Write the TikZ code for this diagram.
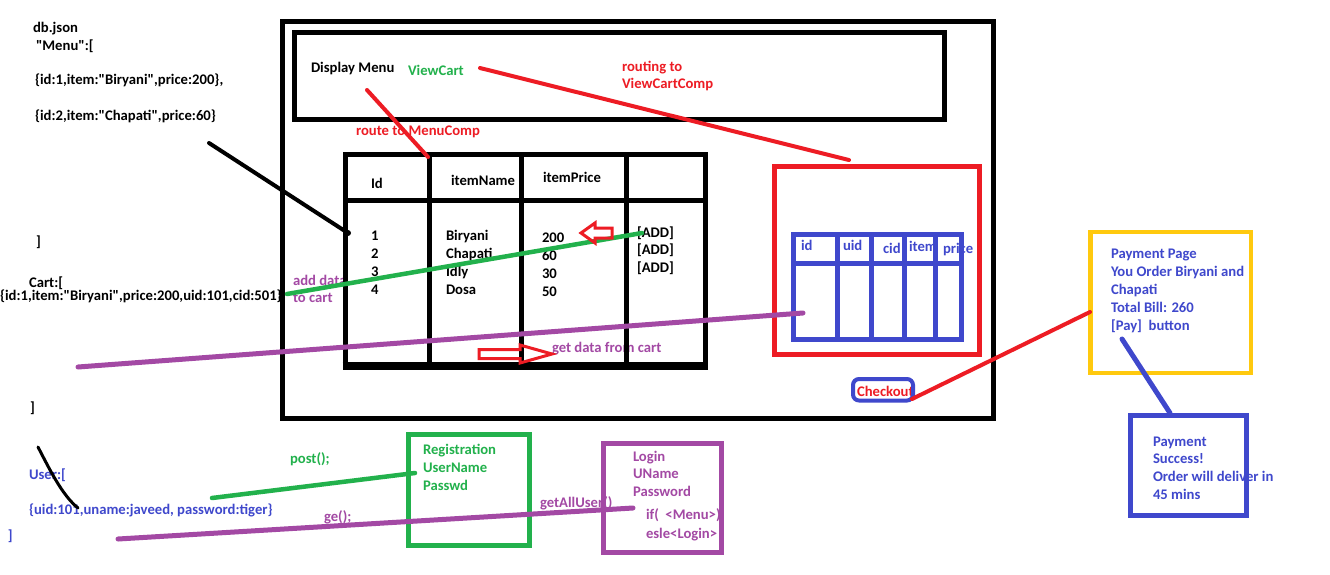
\documentclass[tikz,border=0pt]{standalone}
\usepackage{fontspec}
\setmainfont{Carlito}[Ligatures=TeXOff]
\definecolor{myred}{HTML}{ED1C24}
\definecolor{mygreen}{HTML}{22B14C}
\definecolor{myblue}{HTML}{3F48CC}
\definecolor{mypurple}{HTML}{A349A4}
\definecolor{myyellow}{HTML}{FFC90E}
\begin{document}
\begin{tikzpicture}[x=1pt,y=-1pt,
  t/.style={anchor=base west, inner sep=0pt, outer sep=0pt, font=\fontsize{14.67pt}{18pt}\selectfont\bfseries},
  ln/.style={line width=4pt, line cap=round},
  bx/.style={line width=5pt},
  hollow/.style={draw=myred, line width=3pt, line join=miter},
]
\fill[white] (0,0) rectangle (1330,574);
\useasboundingbox (0,0) rectangle (1330,574);

% ---------- left JSON text ----------
\node[t] (dbjson) at (33,32) {db.json};
\node[t] (menu) at (36,50) {"Menu":[};
\node[t] (m1) at (35,84) {\{id:1,item:"Biryani",price:200\},};
\node[t] (m2) at (35,120) {\{id:2,item:"Chapati",price:60\}};
\node[t] (mend) at (36,246) {]};
\node[t] (cart) at (29,287) {Cart:[};
\node[t] (c1) at (0,300) {\{id:1,item:"Biryani",price:200,uid:101,cid:501\}};
\node[t] (cend) at (30,412) {]};
\node[t,text=myblue] (user) at (29,479) {User:[};
\node[t,text=myblue] (u1) at (29,514) {\{uid:101,uname:javeed, password:tiger\}};
\node[t,text=myblue] (uend) at (8,540) {]};

% ---------- top menu bar ----------
\node[t] (dm) at (311,72) {Display Menu};
\node[t,text=mygreen] (vc) at (408,75) {ViewCart};
\node[t,text=myred] (rt1) at (622,71) {routing to};
\node[t,text=myred] (rt2) at (622,88) {ViewCartComp};
\node[t,text=myred] (rmc) at (356,135) {route to MenuComp};

% ---------- menu table text ----------
\node[t] (hid) at (371,188) {Id};
\node[t] (hname) at (451,185) {itemName};
\node[t] (hprice) at (543,182) {itemPrice};
\node[t] (r1) at (371,240) {1};
\node[t] (r2) at (371,258) {2};
\node[t] (r3) at (371,276) {3};
\node[t] (r4) at (371,294) {4};
\node[t] (n1) at (446,240) {Biryani};
\node[t] (n2) at (446,258) {Chapati};
\node[t] (n3) at (446,276) {Idly};
\node[t] (n4) at (446,294) {Dosa};
\node[t] (p1) at (542,242) {200};
\node[t] (p2) at (542,260) {60};
\node[t] (p3) at (542,278) {30};
\node[t] (p4) at (542,296) {50};
\node[t] (a1) at (637,237) {[ADD]};
\node[t] (a2) at (637,254) {[ADD]};
\node[t] (a3) at (637,272) {[ADD]};
\node[t,text=mypurple] (ad1) at (293,285) {add data};
\node[t,text=mypurple] (ad2) at (293,302) {to cart};
\node[t,text=mypurple] (gd) at (552,352) {get data from cart};

% ---------- cart table text ----------
\node[t,text=myblue] (cid1) at (801,250) {id};
\node[t,text=myblue] (cuid) at (843,250) {uid};
\node[t,text=myblue] (ccid) at (883,253) {cid};
\node[t,text=myblue] (citem) at (909,251) {item};
\node[t,text=myblue] (cprice) at (943,253) {price};
\node[t,text=myred] (co) at (857,396) {Checkout};

% ---------- payment ----------
\node[t,text=myblue] (pp1) at (1111,258) {Payment Page};
\node[t,text=myblue] (pp2) at (1111,276) {You Order Biryani and};
\node[t,text=myblue] (pp3) at (1111,294) {Chapati};
\node[t,text=myblue] (pp4) at (1111,312) {Total Bill: 260};
\node[t,text=myblue] (pp5) at (1111,330) {[Pay]\ \ button};
\node[t,text=myblue] (ps1) at (1153,446) {Payment};
\node[t,text=myblue] (ps2) at (1153,463) {Success!};
\node[t,text=myblue] (ps3) at (1153,481) {Order will deliver in};
\node[t,text=myblue] (ps4) at (1153,499) {45 mins};

% ---------- registration / login ----------
\node[t,text=mygreen] (rg1) at (423,454.5) {Registration};
\node[t,text=mygreen] (rg2) at (423,472.5) {UserName};
\node[t,text=mygreen] (rg3) at (423,490) {Passwd};
\node[t,text=mygreen] (post) at (290,463) {post();};
\node[t,text=mypurple] (ge) at (324,521) {ge();};
\node[t,text=mypurple] (gau) at (540,507) {getAllUser()};
\node[t,text=mypurple] (lg1) at (633,461) {Login};
\node[t,text=mypurple] (lg2) at (633,478) {UName};
\node[t,text=mypurple] (lg3) at (633,496) {Password};
\node[t,text=mypurple] (lg4) at (646,519) {if(\ \ <Menu>)};
\node[t,text=mypurple] (lg5) at (646,538) {esle<Login>};

% ---------- boxes ----------
\draw[bx] (282.5,21.5) rectangle (993,418);
\draw[bx] (294,32) rectangle (944,119);
% menu table
\draw[bx] (345,154.5) rectangle (705,366);
\draw[line width=8pt] (342.5,366) -- (707.5,366);
\draw[bx] (345,200.5) -- (705,200.5);
\draw[bx] (429.5,154.5) -- (429.5,366);
\draw[bx] (521.5,154.5) -- (521.5,366);
\draw[bx] (626.5,154.5) -- (626.5,366);
% cart box
\draw[bx,myred] (774,166.5) rectangle (979,354.5);
\draw[bx,myblue] (793.5,234.5) rectangle (961.5,339.5);
\draw[bx,myblue] (793.5,263.5) -- (961.5,263.5);
\draw[bx,myblue] (837.5,234.5) -- (837.5,339.5);
\draw[bx,myblue] (871.5,234.5) -- (871.5,339.5);
\draw[bx,myblue] (904.5,234.5) -- (904.5,339.5);
\draw[bx,myblue] (935.5,234.5) -- (935.5,339.5);
\draw[myblue,line width=4pt,rounded corners=6pt] (853,379) rectangle (913,400.5);
% payment
\draw[line width=4.5pt,myyellow] (1090.5,232) rectangle (1251,373);
\draw[bx,myblue] (1130,415) rectangle (1246.5,515.5);
% registration / login
\draw[bx,mygreen] (408,434) rectangle (529.5,545);
\draw[bx,mypurple] (603.5,443) rectangle (721,552);

% ---------- connector end points ----------
\coordinate (vcE) at (480,68);
\coordinate (cartT) at (849,160);
\coordinate (dmS) at (367,90);
\coordinate (tabT) at (428,157);
\coordinate (jsonE) at (209,143);
\coordinate (tabL) at (348,233);
\coordinate (addS) at (287,294);
\coordinate (addE) at (642,233);
\coordinate (getS) at (78,367);
\coordinate (getE) at (803,313);
\coordinate (coE) at (912,399);
\coordinate (payL) at (1090,312);
\coordinate (payB) at (1122,339);
\coordinate (sucT) at (1170,413);
\coordinate (postS) at (212,498);
\coordinate (postE) at (415,473);
\coordinate (geS) at (118,539);
\coordinate (geE) at (633,508);
\coordinate (crvS) at (38,447);
\coordinate (crvE) at (78,508);

% ---------- connectors ----------
\draw[ln,myred] (vcE) -- (cartT);
\draw[ln,myred] (dmS) -- (tabT);
\draw[ln] (jsonE) -- (tabL);
\fill (tabL) circle (3pt);
\draw[ln,mygreen,line width=4.5pt] (addS) -- (addE);
\draw[ln,mypurple,line width=5pt] (getS) -- (getE);
\draw[ln,myred] (coE) -- (payL);
\draw[ln,myblue,line width=5pt] (payB) -- (sucT);
\draw[ln,mygreen,line width=4.5pt] (postS) -- (postE);
\draw[ln,mypurple,line width=5pt] (geS) -- (geE);
\draw[line width=3pt,line cap=round] (crvS) .. controls (50,470) and (62,495) .. (crvE);

% ---------- hollow arrows ----------
\draw[hollow] (581,233) -- (595,223) -- (595,228) -- (612,228) -- (612,238) -- (595,238) -- (595,243) -- cycle;
\draw[hollow] (552,354) -- (520,345) -- (520,349.5) -- (479,349.5) -- (479,358.5) -- (520,358.5) -- (520,363) -- cycle;
\end{tikzpicture}
\end{document}
